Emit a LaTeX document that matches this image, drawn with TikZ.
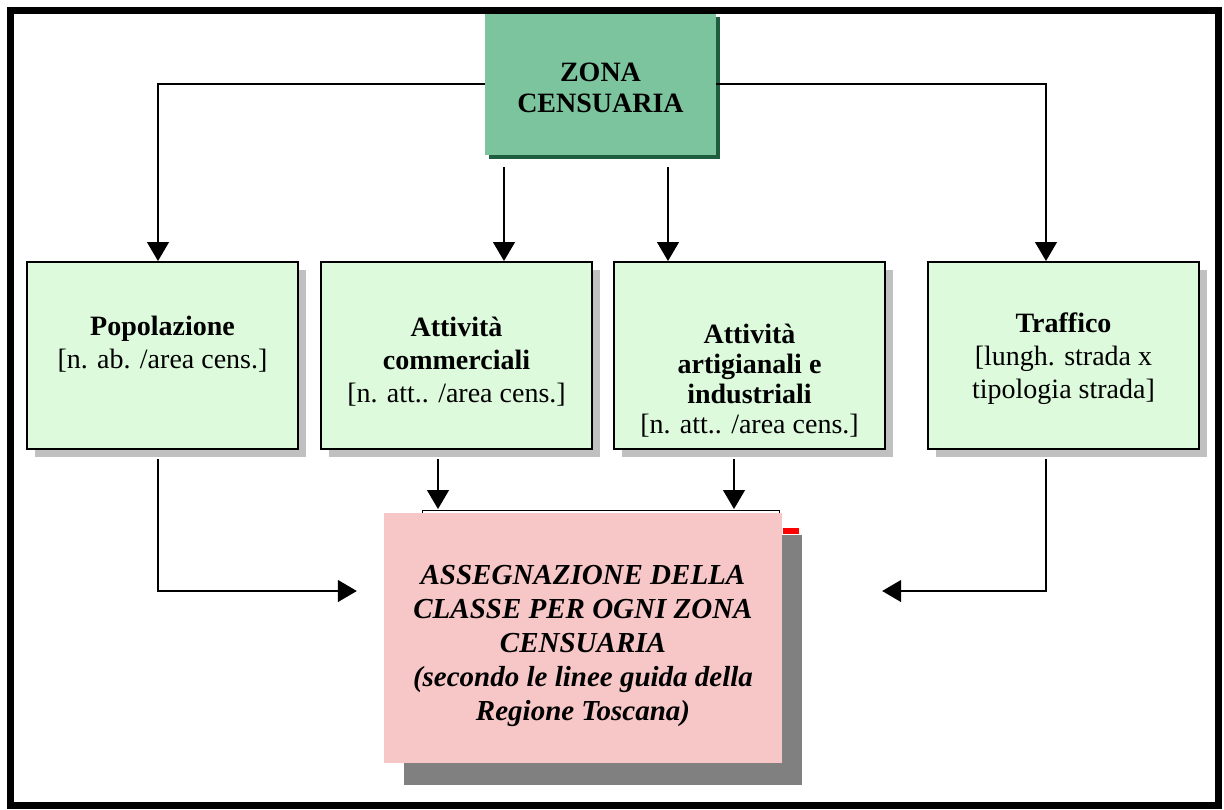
\documentclass[tikz,border=0pt]{standalone}
\usepackage{fontspec}
\setmainfont{Liberation Serif}
\usetikzlibrary{positioning,calc,arrows.meta,shadows}

\definecolor{mint}{HTML}{DDFADD}
\definecolor{zonagreen}{HTML}{7CC49E}
\definecolor{zonadark}{HTML}{1E5E3E}
\definecolor{rosefill}{HTML}{F7C6C6}
\definecolor{lightshade}{HTML}{C0C0C0}
\definecolor{darkshade}{HTML}{808080}

\tikzstyle{block} = [rectangle, draw, line width=2pt, fill=mint, minimum width=271pt, minimum height=187pt, general shadow={fill=lightshade, shadow xshift=8pt, shadow yshift=-8pt}]
\tikzstyle{head} = [rectangle, fill=zonagreen, minimum width=231pt, minimum height=142pt, align=center, font=\fontsize{28}{31}\selectfont\bfseries, general shadow={fill=zonadark, shadow xshift=4pt, shadow yshift=-4pt}]
\tikzstyle{result} = [rectangle, fill=rosefill, minimum width=398pt, minimum height=250pt, general shadow={fill=darkshade, shadow xshift=20pt, shadow yshift=-22pt}]
\tikzstyle{txt} = [align=center, inner sep=0pt, font=\fontsize{28}{33}\selectfont]
\tikzstyle{line} = [draw, line width=1.3pt, -{Triangle[width=22pt,length=19pt]}]

\begin{document}
\begin{tikzpicture}[x=1pt, y=-1pt]
    \useasboundingbox (0,0) rectangle (1224,809);

    \node [head] (zona) at (600.5,84) {\rule{0pt}{27pt}ZONA\\CENSUARIA};

    \node [block] (pop) at (162.5,355.5) {};
    \node [block, right=21pt of pop] (comm) {};
    \node [block, right=20pt of comm] (art) {};
    \node [block, right=41pt of art] (traf) {};

    \node [txt] (poptxt) at ($(pop.center)+(0,-11.5)$) {\textbf{Popolazione}\\{[}n. ab. /area cens.]};
    \node [txt] (commtxt) at ($(comm.center)+(0,6.5)$) {\textbf{Attività}\\\textbf{commerciali}\\{[}n. att.. /area cens.]};
    \node [txt, font=\fontsize{28}{30}\selectfont] (arttxt) at ($(art.center)+(0,25)$) {\textbf{Attività}\\\textbf{artigianali e}\\\textbf{industriali}\\{[}n. att.. /area cens.]};
    \node [txt] (traftxt) at ($(traf.center)+(0,3)$) {\textbf{Traffico}\\{[}lungh. strada x\\tipologia strada]};

    % bits left over behind the result box
    \draw [line width=1pt] (422,514) -- (422,510) -- (779,510) -- (779,514);
    \fill [red] (783,528) rectangle (799,534);

    \node [result] (assign) at (583,638) {};
    \node [txt, font=\fontsize{29}{34}\selectfont\bfseries\itshape] (assigntxt) at ($(assign.center)+(0,7.5)$) {ASSEGNAZIONE DELLA\\CLASSE PER OGNI ZONA\\CENSUARIA\\(secondo le linee guida della\\Regione Toscana)};

    \path [line] (zona.west) -| ($(pop.north)+(-4.5,0)$);
    \path [line] (zona.east) -| ($(traf.north)+(-17.5,0)$);
    \path [line] ($(comm.north)+(47.5,-94)$) -- ($(comm.north)+(47.5,0)$);
    \path [line] ($(art.north)+(-81.5,-94)$) -- ($(art.north)+(-81.5,0)$);

    \path [line] ($(comm.south)+(-18.5,9)$) -- ($(comm.south)+(-18.5,59)$);
    \path [line] ($(art.south)+(-15.5,9)$) -- ($(art.south)+(-15.5,59)$);
    \path [line] ($(pop.south)+(-4.5,9)$) |- ($(assign.west)+(-27,-47)$);
    \path [line] ($(traf.south)+(-17.5,9)$) |- ($(assign.east)+(100,-47)$);

    \draw [line width=7pt] (10.5,10.5) rectangle (1218.5,805.5);
\end{tikzpicture}
\end{document}
